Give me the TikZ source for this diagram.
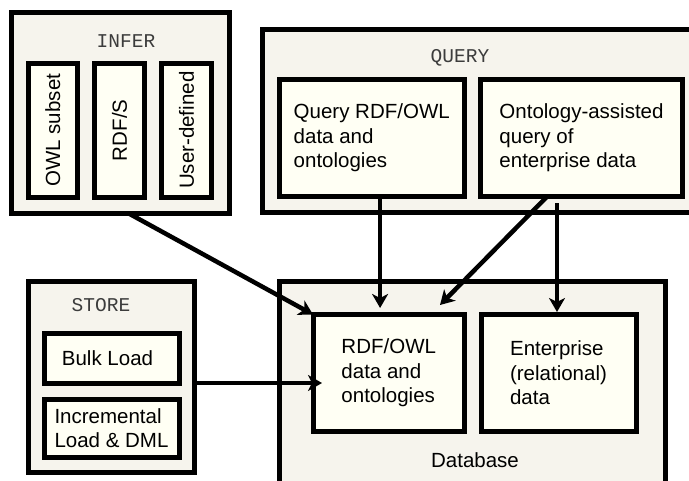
\documentclass[tikz,border=0pt]{standalone}
\usepackage{fontspec}
\setmainfont{Liberation Sans}
\setmonofont{Liberation Mono}
\usetikzlibrary{arrows.meta,calc}
\definecolor{outerfill}{RGB}{246,244,237}
\definecolor{innerfill}{RGB}{255,255,244}
\definecolor{labgray}{RGB}{60,60,60}
\tikzset{
  outerbox/.style={draw=black, line width=5pt, fill=outerfill, rectangle, inner sep=0pt, outer sep=0pt},
  inbox/.style={draw=black, line width=5pt, fill=innerfill, rectangle, inner sep=0pt, outer sep=0pt,
    align=left, font=\fontsize{20.5}{24.5}\selectfont},
  grouplabel/.style={font=\ttfamily\fontsize{19.5}{22}\selectfont, text=labgray, inner sep=0pt},
  dblabel/.style={font=\fontsize{20.5}{24}\selectfont, inner sep=0pt},
  arr/.style={draw=black, line width=4.5pt, -{Stealth[length=14pt,width=16pt,inset=4pt]}}
}
\begin{document}
\begin{tikzpicture}[x=1pt,y=-1pt]
\clip (0,0) rectangle (689,480);
\fill[white] (0,0) rectangle (689,480);
% INFER group
\node[outerbox, minimum width=218pt, minimum height=201pt] (infer) at (120.5,112.5) {};
\node[grouplabel] (inferlab) at (126,41) {INFER};
\node[inbox, rotate=90, minimum width=134.5pt, minimum height=49.5pt] (owl) at (52.75,130.25) {OWL subset};
\node[inbox, rotate=90, minimum width=134.5pt, minimum height=49.5pt] (rdfs) at (119.5,130.25) {RDF/S};
\node[inbox, rotate=90, minimum width=134.5pt, minimum height=49.5pt] (user) at (186.5,130.25) {User-defined};
% QUERY group
\node[outerbox, minimum width=437.5pt, minimum height=183.5pt] (query) at (481.25,120.75) {};
\node[grouplabel] (querylab) at (460,58) {QUERY};
\node[inbox, minimum width=185.5pt, minimum height=117.5pt] (qrdf) at (371.75,137.75) {Query RDF/OWL\\data and\\ontologies};
\node[inbox, minimum width=202pt, minimum height=117.5pt] (qont) at (581.5,137.75) {Ontology-assisted\\query of\\enterprise data};
% STORE group
\node[outerbox, minimum width=166.5pt, minimum height=191pt] (store) at (111.25,376.5) {};
\node[grouplabel] (storelab) at (101,305) {STORE};
\node[inbox, minimum width=135pt, minimum height=50.5pt] (bulk) at (111.5,358.25) {Bulk Load\hspace*{8pt}};
\node[inbox, minimum width=135pt, minimum height=57.5pt] (incr) at (111.5,428.25) {Incremental\\Load \& DML};
% Database
\node[outerbox, minimum width=386pt, minimum height=229pt] (db) at (472.5,395.5) {};
\node[dblabel] (dblab) at (475,460) {Database};
\node[inbox, minimum width=151.5pt, minimum height=117pt] (rdf) at (388.75,373) {RDF/OWL\\data and\\ontologies};
\node[inbox, minimum width=155pt, minimum height=117pt] (ent) at (558.5,373) {Enterprise\\(relational)\\data};
% connectors
\draw[arr] ($(infer.south west)!0.534!(infer.south east)$) -- (rdf.north west);
\coordinate (q1) at ($(qrdf.south west)!0.545!(qrdf.south east)$);
\draw[arr, shorten >=6.5pt] (q1) -- (q1 |- rdf.north);
\draw[arr] ($(qont.south west)!0.33!(qont.south east)$) -- ($(rdf.north east)+(-24.5,-9.5)$);
\coordinate (e1) at ($(ent.north)+(-1.5,0)$);
\draw[arr] ($(e1 |- qont.south)+(0,6.5)$) -- ($(e1)+(0,-2.5)$);
\coordinate (s1) at ($(store.east)+(0,6.5)$);
\draw[arr] (s1) -- ($(s1 -| rdf.west)+(9,0)$);
\end{tikzpicture}
\end{document}
